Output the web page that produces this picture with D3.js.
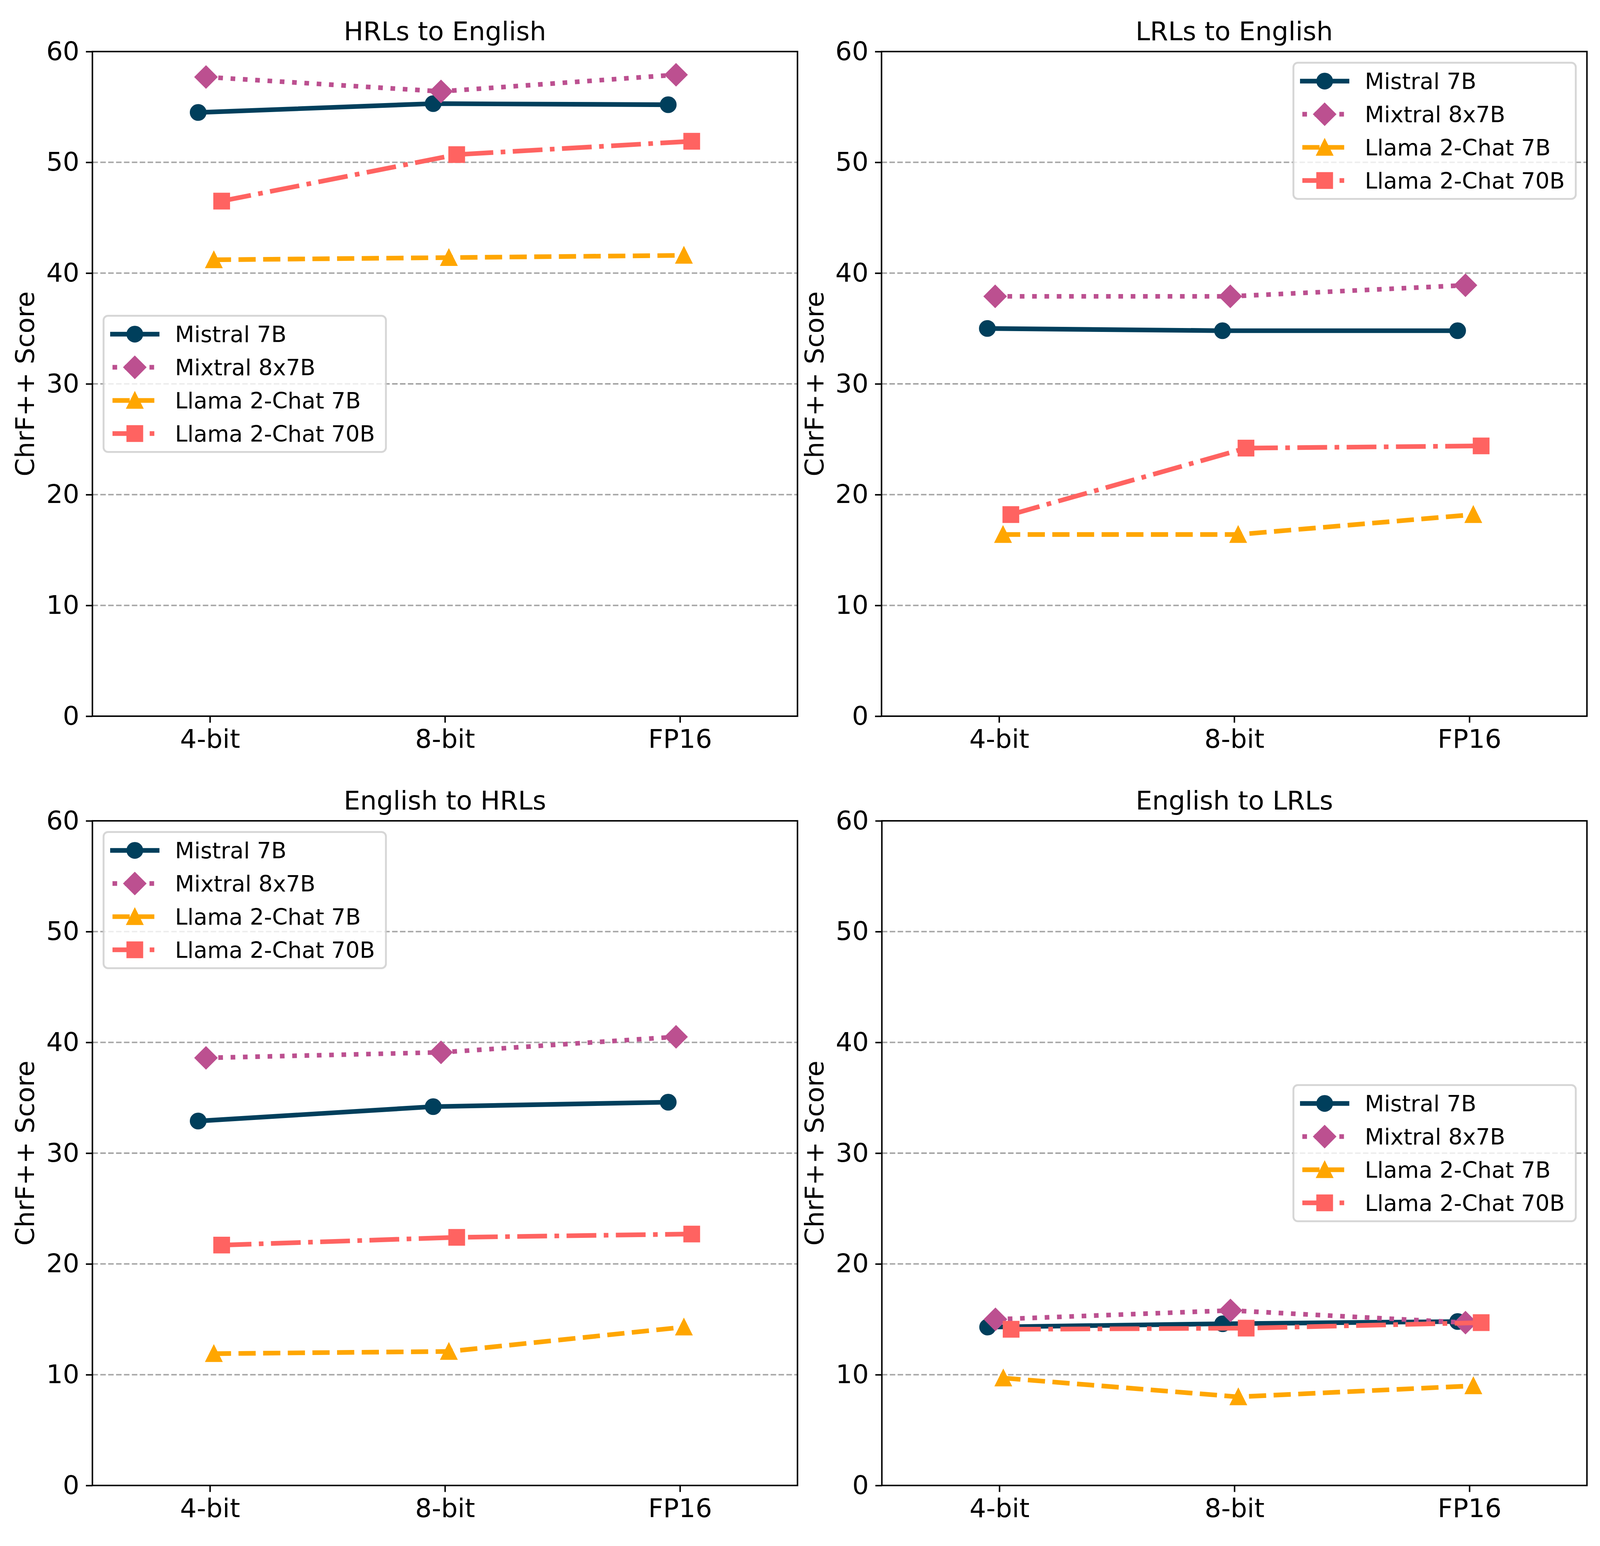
<!DOCTYPE html>
<html>
<head>
<meta charset="utf-8">
<script src="https://cdn.jsdelivr.net/npm/d3@7"></script>
<style>
  html, body { margin: 0; padding: 0; background: #fff; overflow: hidden; }
  #chart { display: block; width: 100vw; height: 100vh; }
  text { font-family: "DejaVu Sans", sans-serif; fill: #000; }
</style>
</head>
<body>
<svg id="chart"></svg>
<script>
var W = 4779, H = 3959;
var pt = 400 / 72; // px per point

// data
var levels = ["4-bit", "8-bit", "FP16"];
var models = ["Mistral 7B", "Mixtral 8x7B", "Llama 2-Chat 7B", "Llama 2-Chat 70B"];
var colors = ["#003f5c", "#bc5090", "#ffa600", "#ff6361"];
var shapes = ["circle", "diamond", "triangle", "square"];
var offsets = [-0.05, -0.0167, 0.0167, 0.05];
var yTicks = [0, 10, 20, 30, 40, 50, 60];
var titles = ["HRLs to English", "LRLs to English", "English to HRLs", "English to LRLs"];

var hrlToEn = [[54.5, 55.3, 55.2], [57.7, 56.4, 57.9], [41.2, 41.4, 41.6], [46.5, 50.7, 51.9]];
var lrlToEn = [[35.0, 34.8, 34.8], [37.9, 37.9, 38.9], [16.4, 16.4, 18.2], [18.2, 24.2, 24.4]];
var enToHrl = [[32.9, 34.2, 34.6], [38.6, 39.1, 40.5], [11.9, 12.1, 14.3], [21.7, 22.4, 22.7]];
var enToLrl = [[14.3, 14.6, 14.8], [15.0, 15.8, 14.7], [9.7, 8.0, 9.0], [14.1, 14.2, 14.7]];
var panelData = [hrlToEn, lrlToEn, enToHrl, enToLrl];

// fit the page to whatever window we get: layout stretches, glyphs don't
var vw = window.innerWidth || W, vh = window.innerHeight || H;
var ky = (W * vh / vw) / H;
if (!isFinite(ky) || ky <= 0) ky = 1;

// layout (reference pixels)
var panels = [
  { x0: 276, x1: 2382, y0: 132, y1: 1834, legend: "center left" },
  { x0: 2633, x1: 4740, y0: 132, y1: 1834, legend: "upper right" },
  { x0: 276, x1: 2382, y0: 2102, y1: 3804, legend: "upper left" },
  { x0: 2634, x1: 4740, y0: 2102, y1: 3804, legend: "center right" }
];

var lw = 2.5 * pt;
var dashes = [null, [1, 1.65], [3.7, 1.6], [6.4, 1.6, 1, 1.6]].map(function(d) {
  return d ? d.map(function(v) { return v * lw; }).join(",") : null;
});
var fs = 14 * pt, legFs = 12 * pt, ms = 8 * pt;

var svg = d3.select("#chart")
  .attr("viewBox", "0 0 " + W + " " + (H * ky))
  .attr("preserveAspectRatio", "xMidYMid meet");
svg.append("rect").attr("width", W).attr("height", H * ky).attr("fill", "#fff");

function markerPath(shape) {
  var h = ms / 2;
  if (shape == "circle") return d3.symbol(d3.symbolCircle, Math.PI * h * h)();
  if (shape == "diamond") { var s = h * Math.SQRT2; return "M0," + (-s) + "L" + s + ",0L0," + s + "L" + (-s) + ",0Z"; }
  if (shape == "triangle") return "M0," + (-h) + "L" + h + "," + h + "L" + (-h) + "," + h + "Z";
  return "M" + (-h) + "," + (-h) + "H" + h + "V" + h + "H" + (-h) + "Z";
}

panels.forEach(function(p, pi) {
  var top = p.y0 * ky, bot = p.y1 * ky;
  var x = d3.scaleLinear().domain([-0.5, 2.5]).range([p.x0, p.x1]);
  var y = d3.scaleLinear().domain([0, 60]).range([bot, top]);
  var g = svg.append("g");

  // grid
  g.selectAll(".grid").data(yTicks.filter(function(t) { return t > 0 && t < 60; }))
    .enter().append("line")
    .attr("x1", p.x0).attr("x2", p.x1)
    .attr("y1", function(d) { return y(d); }).attr("y2", function(d) { return y(d); })
    .attr("stroke", "#a6a6a6").attr("stroke-width", 0.8 * pt)
    .attr("stroke-dasharray", [3.7 * 0.8 * pt, 1.6 * 0.8 * pt].join(","));

  // series
  panelData[pi].forEach(function(vals, si) {
    var line = d3.line()
      .x(function(d, i) { return x(i + offsets[si]); })
      .y(function(d) { return y(d); });
    g.append("path").datum(vals)
      .attr("d", line)
      .attr("fill", "none")
      .attr("stroke", colors[si])
      .attr("stroke-width", lw)
      .attr("stroke-linejoin", "round")
      .attr("stroke-linecap", si == 0 ? "square" : "butt")
      .attr("stroke-dasharray", dashes[si]);
    g.selectAll(".m" + si).data(vals).enter().append("path")
      .attr("transform", function(d, i) { return "translate(" + x(i + offsets[si]) + "," + y(d) + ")"; })
      .attr("d", markerPath(shapes[si]))
      .attr("fill", colors[si])
      .attr("stroke", colors[si])
      .attr("stroke-width", pt);
  });

  // axes
  var ax = g.append("g").attr("transform", "translate(" + p.x0 + ",0)")
    .call(d3.axisLeft(y).tickValues(yTicks).tickSize(3.5 * pt).tickPadding(3.5 * pt));
  var bx = g.append("g").attr("transform", "translate(0," + bot + ")")
    .call(d3.axisBottom(x).tickValues([0, 1, 2]).tickFormat(function(d) { return levels[d]; })
      .tickSize(3.5 * pt).tickPadding(3.5 * pt));
  [ax, bx].forEach(function(a) {
    a.select(".domain").remove();
    a.selectAll("line").attr("stroke", "#000").attr("stroke-width", 0.8 * pt);
    a.selectAll("text").attr("font-size", fs).attr("font-family", "DejaVu Sans").attr("fill", "#000");
  });

  g.append("rect")
    .attr("x", p.x0).attr("y", top)
    .attr("width", p.x1 - p.x0).attr("height", bot - top)
    .attr("fill", "none").attr("stroke", "#000").attr("stroke-width", 0.8 * pt);

  g.append("text")
    .attr("x", (p.x0 + p.x1) / 2).attr("y", top - 6 * pt)
    .attr("text-anchor", "middle").attr("font-size", fs)
    .text(titles[pi]);

  g.append("text")
    .attr("transform", "translate(" + (p.x0 - 174) + "," + ((top + bot) / 2) + ") rotate(-90)")
    .attr("text-anchor", "middle").attr("font-size", fs)
    .text("ChrF++ Score");

  // legend
  var pad = 0.4 * legFs, hl = 2 * legFs, htp = 0.8 * legFs, edge = 0.5 * legFs;
  var rowGap = 99, first = 55;
  var lg = g.append("g");
  var box = lg.append("rect");
  var items = lg.selectAll(".item").data(models).enter().append("g");
  var texts = items.append("text")
    .attr("font-size", legFs)
    .attr("x", pad + hl + htp)
    .attr("y", function(d, i) { return first + i * rowGap; })
    .attr("dy", "0.36em")
    .text(function(d) { return d; });
  var tw = d3.max(texts.nodes(), function(n) { return n.getComputedTextLength(); });
  var bw = pad + hl + htp + tw + pad + 6, bh = first * 2 + rowGap * (models.length - 1);
  var lx = p.legend.indexOf("left") >= 0 ? p.x0 + edge : p.x1 - edge - bw;
  var ly = p.legend.indexOf("upper") >= 0 ? top + edge : (top + bot) / 2 - bh / 2;
  lg.attr("transform", "translate(" + lx + "," + ly + ")");
  box.attr("width", bw).attr("height", bh).attr("rx", 0.2 * legFs)
    .attr("fill", "#fff").attr("fill-opacity", 0.8)
    .attr("stroke", "#cccccc").attr("stroke-opacity", 0.8).attr("stroke-width", pt);
  items.each(function(d, i) {
    var it = d3.select(this), cy = first + i * rowGap;
    it.append("line")
      .attr("x1", pad).attr("x2", pad + hl).attr("y1", cy).attr("y2", cy)
      .attr("stroke", colors[i]).attr("stroke-width", lw)
      .attr("stroke-linecap", i == 0 ? "square" : "butt")
      .attr("stroke-dasharray", dashes[i]);
    it.append("path")
      .attr("transform", "translate(" + (pad + hl / 2) + "," + cy + ")")
      .attr("d", markerPath(shapes[i]))
      .attr("fill", colors[i]).attr("stroke", colors[i]).attr("stroke-width", pt);
  });
});
</script>
</body>
</html>
